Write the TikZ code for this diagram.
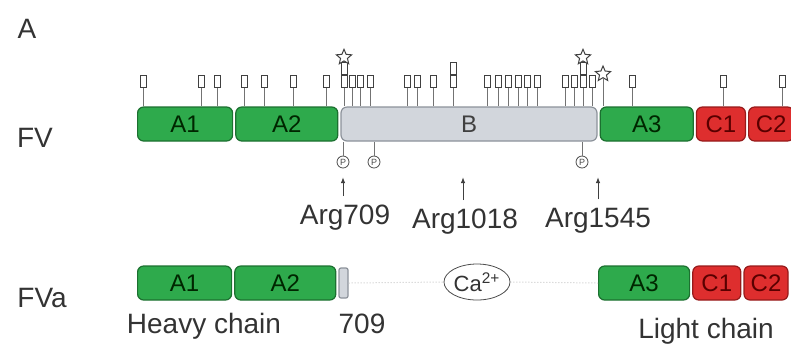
\documentclass[tikz,border=0pt]{standalone}
\usepackage{fontspec}
\setmainfont{Liberation Sans}
\setsansfont{Liberation Sans}
\usetikzlibrary{arrows.meta, positioning, shapes.geometric}
\definecolor{domgreen}{RGB}{46,170,76}
\definecolor{domgreenline}{RGB}{28,112,48}
\definecolor{domred}{RGB}{222,46,46}
\definecolor{domredline}{RGB}{150,26,26}
\definecolor{domgray}{RGB}{210,214,220}
\definecolor{domgrayline}{RGB}{140,146,154}
\tikzset{
    adom/.style={
        rectangle, rounded corners=3pt,
        draw=domgreenline, fill=domgreen,
        minimum height=17pt, inner sep=0pt, line width=0.6pt,
        font=\fontsize{12}{12}\selectfont\sffamily, text=green!15!black
    },
    cdom/.style={
        rectangle, rounded corners=3pt,
        draw=domredline, fill=domred,
        minimum height=17pt, inner sep=0pt, line width=0.6pt,
        font=\fontsize{12}{12}\selectfont\sffamily, text=red!35!black
    },
    bdom/.style={
        rectangle, rounded corners=3pt,
        draw=domgrayline, fill=domgray,
        minimum height=17pt, inner sep=0pt, line width=0.6pt,
        font=\fontsize{12}{12}\selectfont\sffamily, text=black!75
    },
    site/.style={
        rectangle, draw=black!75, fill=white,
        minimum width=3pt, minimum height=6pt, inner sep=0pt, line width=0.5pt
    },
    starsite/.style={
        star, star points=5, star point ratio=2.2,
        draw=black!75, fill=white,
        minimum size=8pt, inner sep=0pt, line width=0.5pt
    },
    phos/.style={
        circle, draw=black!70, fill=white,
        minimum size=6pt, inner sep=0pt,
        font=\fontsize{4.5}{4.5}\selectfont\sffamily, text=black!70
    },
    ion/.style={
        ellipse, draw=black!70, fill=white,
        minimum width=32pt, minimum height=18pt, inner sep=0pt,
        font=\fontsize{11}{11}\selectfont\sffamily, text=black!80
    },
    txt/.style={font=\fontsize{14}{14}\selectfont\sffamily, text=black!80, inner sep=1pt},
    stem/.style={draw=black!55, line width=0.4pt},
    linker/.style={draw=black!22, line width=0.5pt, densely dotted},
    uparrow/.style={-{Latex[length=3pt, width=2.2pt]}, draw=black!75, line width=0.5pt, shorten <=3pt}
}
\begin{document}
\begin{tikzpicture}[x=0.5pt, y=-0.5pt]
    \useasboundingbox (0,0) rectangle (791,350);

    % row labels
    \node[txt, anchor=base] (pa) at (27,38) {A};
    \node[txt, anchor=base] (fv) at (35,147) {FV};
    \node[txt, anchor=base west] (fva) at (15,307) {FVa};

    % FV domains
    \node[adom, minimum width=47.5pt, anchor=west] (a1) at (137,124) {A1};
    \node[adom, minimum width=51pt, right=1pt of a1] (a2) {A2};
    \node[bdom, minimum width=128pt, right=1pt of a2] (b) {B};
    \node[adom, minimum width=46.5pt, right=1pt of b] (a3) {A3};
    \node[cdom, minimum width=24.5pt, right=1pt of a3] (c1) {C1};
    \node[cdom, minimum width=22.5pt, right=1pt of c1] (c2) {C2};

    % glycosylation sites
    \foreach \x [count=\i] in {143,201,217,244,264,293,326,344,352,360,370,
        407,417,433,453,487,498,508,518,527,537,565,574,583,592,632,723,782} {
        \node[site] (s\i) at (\x,81) {};
        \draw[stem] (s\i.south) -- (s\i.south |- a1.north);
    }
    \node[site, above=0pt of s8] (s8t) {};
    \node[starsite, above=0pt of s8t] (st1) {};
    \node[site, above=0pt of s15] (s15t) {};
    \node[site, above=0pt of s24] (s24t) {};
    \node[starsite, above=0pt of s24t] (st2) {};
    \node[starsite] (st3) at (603,74) {};
    \draw[stem] (st3.south) -- (st3.south |- a1.north);

    % phosphorylation sites
    \node[phos] (p1) at (343,162) {P};
    \node[phos] (p2) at (374,162) {P};
    \node[phos] (p3) at (582,162) {P};
    \draw[stem] (p1.north) -- (p1.north |- a1.south);
    \draw[stem] (p2.north) -- (p2.north |- a1.south);
    \draw[stem] (p3.north) -- (p3.north |- a1.south);

    % cleavage sites
    \node[txt, anchor=base] (arg709) at (345,224) {Arg709};
    \node[txt, anchor=base] (arg1018) at (465,228) {Arg1018};
    \node[txt, anchor=base] (arg1545) at (598,227) {Arg1545};
    \coordinate (t709) at (343,177);
    \coordinate (t1018) at (463,177);
    \coordinate (t1545) at (598,177);
    \draw[uparrow] (arg709.north -| t709) -- (t709);
    \draw[uparrow] (arg1018.north -| t1018) -- (t1018);
    \draw[uparrow] (arg1545.north -| t1545) -- (t1545);

    % FVa
    \node[adom, minimum width=47pt, anchor=west] (ha1) at (137,283) {A1};
    \node[adom, minimum width=50.5pt, right=1pt of ha1] (ha2) {A2};
    \node[bdom, minimum width=4.5pt, minimum height=15pt, rounded corners=1pt, right=1pt of ha2] (hb) {};
    \node[ion] (ca) at (477,282) {Ca\textsuperscript{2+}};
    \node[adom, minimum width=45.5pt, anchor=west] (la3) at (598,283) {A3};
    \node[cdom, minimum width=24pt, right=1pt of la3] (lc1) {C1};
    \node[cdom, minimum width=22pt, right=1pt of lc1] (lc2) {C2};
    \draw[linker] (hb.east) -- (ca.west);
    \draw[linker] (ca.east) -- (la3.west);

    \node[txt, anchor=base] (heavy) at (204,333) {Heavy chain};
    \node[txt, anchor=base] (h709) at (362,333) {709};
    \node[txt, anchor=base] (light) at (706,338) {Light chain};
\end{tikzpicture}
\end{document}
